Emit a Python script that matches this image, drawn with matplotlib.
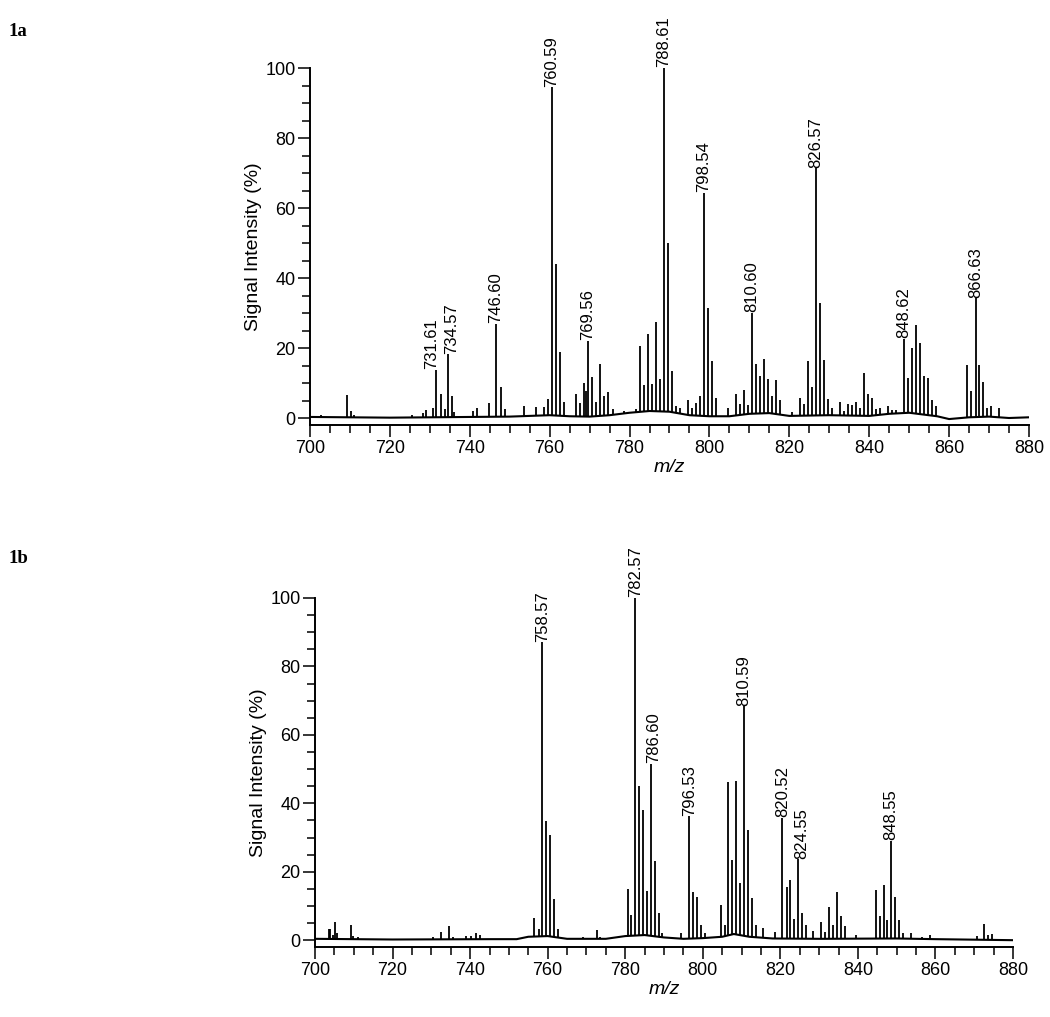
import numpy as np
import matplotlib
matplotlib.use("Agg")
import matplotlib.pyplot as plt
from matplotlib.ticker import MultipleLocator

plt.rcParams['font.family'] = ['Liberation Sans', 'DejaVu Sans']

# ---- panel 1a: stick peaks (m/z, relative intensity %) ----
mz_a = [702.7, 709.2, 710.2, 711.0, 725.5, 728.3, 729.0, 730.7, 731.61, 732.7, 733.7,
        734.57, 735.6, 736.1, 740.7, 741.9, 744.7, 746.60, 747.7, 748.9, 753.6,
        756.6, 758.6, 759.6, 760.59, 761.6, 762.6, 763.6, 766.6, 767.6, 768.6,
        769.1, 769.56, 770.6, 771.6, 772.6, 773.6, 774.6, 775.8, 778.6, 781.7,
        782.6, 783.6, 784.6, 785.6, 786.6, 787.6, 788.61, 789.6, 790.6, 791.6,
        792.6, 794.6, 795.6, 796.6, 797.6, 798.54, 799.6, 800.6, 801.6, 804.6,
        806.6, 807.6, 808.6, 809.6, 810.60, 811.6, 812.6, 813.6, 814.6, 815.6,
        816.6, 817.6, 820.6, 822.6, 823.6, 824.6, 825.6, 826.57, 827.6, 828.6,
        829.6, 830.6, 832.6, 833.6, 834.6, 835.6, 836.6, 837.6, 838.6, 839.6,
        840.6, 841.6, 842.6, 844.7, 845.7, 846.7, 848.62, 849.6, 850.6, 851.6,
        852.6, 853.6, 854.6, 855.6, 856.6, 864.6, 865.6, 866.63, 867.6, 868.6,
        869.6, 870.6, 872.6]
int_a = [1.0, 6.6, 2.0, 1.0, 1.0, 1.5, 2.3, 3.0, 13.7, 6.8, 2.5,
         18.2, 6.3, 1.8, 2.0, 3.0, 4.2, 26.9, 9.0, 2.7, 3.4,
         3.2, 3.2, 5.3, 94.5, 43.9, 19.0, 4.6, 7.0, 4.2, 10.0,
         7.6, 22.0, 11.6, 4.7, 15.3, 6.3, 7.4, 2.5, 2.0, 2.5,
         20.6, 9.3, 23.9, 9.6, 27.5, 11.2, 100.0, 50.1, 13.4, 3.4,
         3.0, 5.1, 3.0, 4.3, 6.4, 64.4, 31.5, 16.3, 5.6, 3.0,
         6.9, 4.0, 8.1, 3.7, 30.1, 15.3, 12.0, 16.9, 11.1, 6.2,
         10.9, 5.1, 1.7, 5.6, 4.0, 16.4, 8.8, 71.3, 32.8, 16.6,
         5.4, 2.8, 4.7, 1.9, 4.0, 3.7, 4.7, 3.0, 13.0, 7.0,
         5.7, 2.6, 2.8, 3.5, 2.3, 2.2, 22.7, 11.3, 19.9, 26.5,
         21.3, 12.0, 11.4, 5.1, 3.4, 15.1, 7.8, 34.2, 15.1, 10.2,
         3.0, 3.4, 3.0]
base_a_mz = [700, 720, 740, 750, 755, 760, 765, 770, 775, 780, 785, 790, 795, 800,
             805, 810, 815, 820, 825, 830, 840, 845, 850, 857, 860, 865, 870, 875, 880]
base_a_val = [0.3, 0.1, 0.3, 0.4, 0.6, 0.8, 0.5, 0.4, 0.8, 1.5, 2.0, 1.8, 0.8, 0.5,
              0.5, 1.2, 1.4, 0.6, 0.7, 0.8, 0.6, 1.2, 1.5, 0.5, -0.3, 0.2, 0.4, 0.0, 0.2]
labels_a = ["731.61", "734.57", "746.60", "760.59", "769.56", "788.61",
            "798.54", "810.60", "826.57", "848.62", "866.63"]

# ---- panel 1b ----
mz_b = [703.5, 703.9, 704.6, 705.2, 705.6, 709.3, 709.9, 711.0, 730.5, 732.6, 734.6,
        735.6, 739.0, 740.2, 741.5, 742.5, 756.5, 757.7, 758.57, 759.6, 760.6,
        761.6, 762.6, 769.0, 772.6, 773.5, 780.6, 781.6, 782.57, 783.6, 784.6,
        785.6, 786.60, 787.6, 788.6, 789.6, 794.5, 796.53, 797.6, 798.6, 799.6,
        800.5, 804.6, 805.6, 806.6, 807.6, 808.6, 809.6, 810.59, 811.6, 812.6,
        813.6, 815.6, 818.5, 820.52, 821.6, 822.6, 823.6, 824.55, 825.6, 826.6,
        828.5, 830.5, 831.5, 832.6, 833.6, 834.6, 835.6, 836.6, 839.5, 844.6,
        845.6, 846.6, 847.6, 848.55, 849.6, 850.6, 851.6, 853.7, 856.6, 858.5,
        870.7, 872.6, 873.6, 874.6]
int_b = [3.4, 3.4, 1.5, 5.4, 2.0, 4.4, 1.2, 1.0, 1.0, 2.4, 4.0,
         1.0, 1.3, 1.3, 2.2, 1.6, 6.5, 3.4, 87.0, 34.8, 30.6,
         12.0, 3.2, 1.0, 3.0, 1.0, 15.0, 7.4, 100.0, 45.2, 37.9,
         14.4, 51.5, 23.1, 7.9, 2.0, 2.0, 36.2, 14.2, 12.7, 4.3,
         2.0, 10.3, 4.3, 46.2, 23.3, 46.6, 16.8, 68.3, 32.1, 12.4,
         4.3, 3.6, 2.4, 35.8, 15.4, 17.6, 6.2, 23.6, 7.9, 4.5,
         2.8, 5.4, 2.5, 9.7, 4.5, 14.1, 7.0, 4.0, 1.4, 14.7,
         7.0, 16.1, 5.8, 29.0, 12.6, 5.8, 2.0, 2.0, 1.0, 1.6,
         1.3, 4.7, 1.4, 1.8]
base_b_mz = [700, 720, 745, 752, 755, 760, 765, 775, 780, 785, 790, 795, 800, 805,
             808, 812, 818, 830, 850, 860, 880]
base_b_val = [0.4, 0.2, 0.3, 0.3, 1.0, 1.2, 0.4, 0.4, 1.2, 1.5, 0.8, 0.4, 0.6, 1.0,
              1.8, 1.0, 0.5, 0.4, 0.5, 0.3, 0.0]
labels_b = ["758.57", "782.57", "786.60", "796.53", "810.59", "820.52",
            "824.55", "848.55"]

# nudge crowded labels sideways (points)
label_shift = {"731.61": -3.0, "734.57": 2.5, "786.60": 2.0, "824.55": 2.5}

fig = plt.figure(figsize=(10.5, 10.17), dpi=100)


def draw_panel(ax, mz, inten, bmz, bval, labels):
    mz = np.array(mz)
    inten = np.array(inten)
    base = np.interp(mz, bmz, bval)
    ax.plot(bmz, bval, color='black', lw=1.5)
    ax.vlines(mz, base, inten, color='black', lw=1.3)
    for lab in labels:
        i = int(np.argmin(np.abs(mz - float(lab))))
        ax.annotate(lab, (mz[i], inten[i]), xytext=(label_shift.get(lab, 0), 0.5),
                    textcoords='offset points', rotation=90, ha='center',
                    va='bottom', fontsize=12, annotation_clip=False)
    ax.set_xlim(700, 880)
    ax.set_ylim(-2, 100)
    ax.spines['top'].set_visible(False)
    ax.spines['right'].set_visible(False)
    for s in ['left', 'bottom']:
        ax.spines[s].set_linewidth(1.4)
    ax.xaxis.set_major_locator(MultipleLocator(20))
    ax.xaxis.set_minor_locator(MultipleLocator(5))
    ax.yaxis.set_major_locator(MultipleLocator(20))
    ax.yaxis.set_minor_locator(MultipleLocator(5))
    ax.tick_params(which='major', length=8.5, width=1.1, labelsize=13, pad=2)
    ax.tick_params(which='minor', length=5.5, width=1.1)
    ax.set_ylabel("Signal Intensity (%)", fontsize=14, labelpad=2)
    ax.set_xlabel("m/z", fontsize=14, style='italic', labelpad=2)


ax1 = fig.add_axes([0.2952, 0.5821, 0.6848, 0.351])
draw_panel(ax1, mz_a, int_a, base_a_mz, base_a_val, labels_a)

ax2 = fig.add_axes([0.300, 0.0688, 0.6648, 0.3432])
draw_panel(ax2, mz_b, int_b, base_b_mz, base_b_val, labels_b)

fig.text(0.008, 0.969, "1a", family=['Liberation Serif', 'DejaVu Serif'],
         weight='bold', fontsize=13.5, va='center')
fig.text(0.008, 0.451, "1b", family=['Liberation Serif', 'DejaVu Serif'],
         weight='bold', fontsize=13.5, va='center')

fig.savefig("out.png", dpi=100)
